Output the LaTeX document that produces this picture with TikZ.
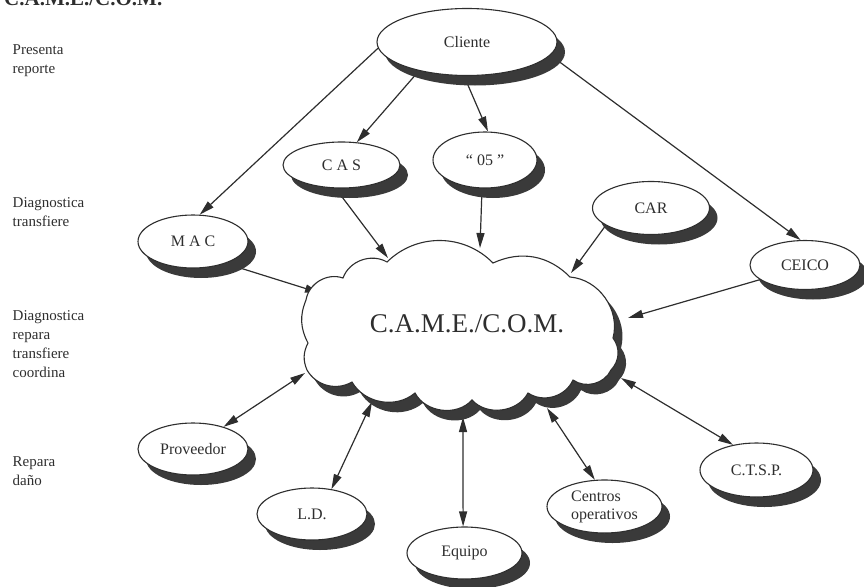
\documentclass[tikz,border=0pt]{standalone}
\usepackage{fontspec}
\setmainfont{Liberation Serif}
\usetikzlibrary{shapes.geometric,shadows,arrows.meta,backgrounds}

\definecolor{ink}{HTML}{2E2E2E}
\definecolor{shadowgray}{HTML}{3A3A3A}

% outline of the central cloud, traced clockwise from its lower-left cusp
\newcommand\cloudoutline{(307,370) to[bend left=25] (308,343) to[bend left=25] (306,300)
  to[bend left=50] (343,278) to[bend left=50] (387,262) to[bend left=45] (493,263)
  to[bend left=35] (570,277) to[bend left=50] (613,338) to[bend left=40] (611,370)
  to[bend left=50] (573,380) to[bend left=50] (528,393) to[bend left=55] (472,400)
  to[bend left=55] (415,393) to[bend left=50] (352,382) to[bend left=45] (307,370) -- cycle}

\begin{document}
\begin{tikzpicture}[x=1pt,y=-1pt,
  bubble/.style={ellipse, draw=ink, line width=1.1pt, fill=white, inner sep=0pt,
    text=ink, font=\fontsize{16}{18}\selectfont,
    drop shadow={shadow xshift=8pt, shadow yshift=-10pt, fill=shadowgray, opacity=1}},
  arr/.style={draw=ink, line width=1.2pt, -{Triangle[length=15pt,width=8pt]}},
  dbl/.style={draw=ink, line width=1.2pt, {Triangle[length=15pt,width=8pt]}-{Triangle[length=15pt,width=8pt]}},
  side/.style={anchor=base west, align=left, inner sep=0pt, text=ink,
    font=\fontsize{15}{19}\selectfont}]

\useasboundingbox (0,0) rectangle (864,586);

% heading cut by the top edge
\begin{scope}
  \clip (0,0) rectangle (864,586);
  \node[anchor=base west, inner sep=0pt, text=ink, font=\fontsize{21}{24}\selectfont\bfseries]
    (heading) at (4,6) {C.A.M.E./C.O.M.};
\end{scope}

% activity labels on the left
\node[side] (lvl1) at (12.5,74) {Presenta\\reporte};
\node[side] (lvl2) at (12.5,226) {Diagnostica\\transfiere};
\node[side] (lvl3) at (12.5,377) {Diagnostica\\repara\\transfiere\\coordina};
\node[side] (lvl4) at (12.5,485) {Repara\\daño};

% central cloud with its shadow
\fill[shadowgray, shift={(8,10)}] \cloudoutline;
\draw[ink, line width=1.1pt, fill=white] \cloudoutline;
\node[text=ink, anchor=base, inner sep=0pt, font=\fontsize{27}{30}\selectfont]
  (came) at (467,332) {C.A.M.E./C.O.M.};

% points where connectors meet the cloud
\coordinate (cMAC) at (320,293);
\coordinate (cCAS) at (388,258);
\coordinate (c05) at (480,248);
\coordinate (cCAR) at (571,273);
\coordinate (cCEICO) at (628,318);
\coordinate (cPROV) at (305,373);
\coordinate (cLD) at (372,402);
\coordinate (cEQ) at (463,417);
\coordinate (cCEN) at (547,408);
\coordinate (cCTSP) at (621,378);

% ellipses
\node[bubble, minimum width=180pt, minimum height=67pt] (cli) at (467,42) {Cliente};
\node[bubble, minimum width=117pt, minimum height=46pt] (cas) at (341.5,165) {C A S};
\node[bubble, minimum width=104pt, minimum height=56pt] (n05) at (485,160) {“ 05 ”};
\node[bubble, minimum width=110pt, minimum height=53pt] (mac) at (193,241.5) {M A C};
\node[bubble, minimum width=117pt, minimum height=53pt] (car) at (651,208) {CAR};
\node[bubble, minimum width=110pt, minimum height=49pt] (ceico) at (805,265) {CEICO};
\node[bubble, minimum width=110pt, minimum height=52pt] (prov) at (193,449) {Proveedor};
\node[bubble, minimum width=110pt, minimum height=52pt] (ld) at (312,514) {L.D.};
\node[bubble, minimum width=115pt, minimum height=52pt] (eq) at (464.5,553) {Equipo};
\node[bubble, minimum width=115pt, minimum height=53pt, align=left] (cen) at (604.5,506.5) {Centros\\operativos};
\node[bubble, minimum width=113pt, minimum height=54pt] (ctsp) at (756.5,470) {C.T.S.P.};

% connectors, kept beneath the shapes and their shadows
\begin{pgfonlayer}{background}
  \draw[arr] (cli.184) -- (mac.76);
  \draw[arr] (cli.211) -- (cas.56);
  \draw[arr] (cli.265) -- (n05.84);
  \draw[arr] (cli.351) -- (ceico.100);
  \draw[arr] (mac.326) -- (cMAC);
  \draw[arr] (cas.256) -- (cCAS);
  \draw[arr] (n05.264) -- (c05);
  \draw[arr] (car.201) -- (cCAR);
  \draw[arr] (ceico.198) -- (cCEICO);
  \draw[dbl] (prov.36) -- (cPROV);
  \draw[dbl] (ld.52) -- (cLD);
  \draw[dbl] (eq.93) -- (cEQ);
  \draw[dbl] (cen.110) -- (cCEN);
  \draw[dbl] (ctsp.133) -- (cCTSP);
\end{pgfonlayer}
\end{tikzpicture}
\end{document}
